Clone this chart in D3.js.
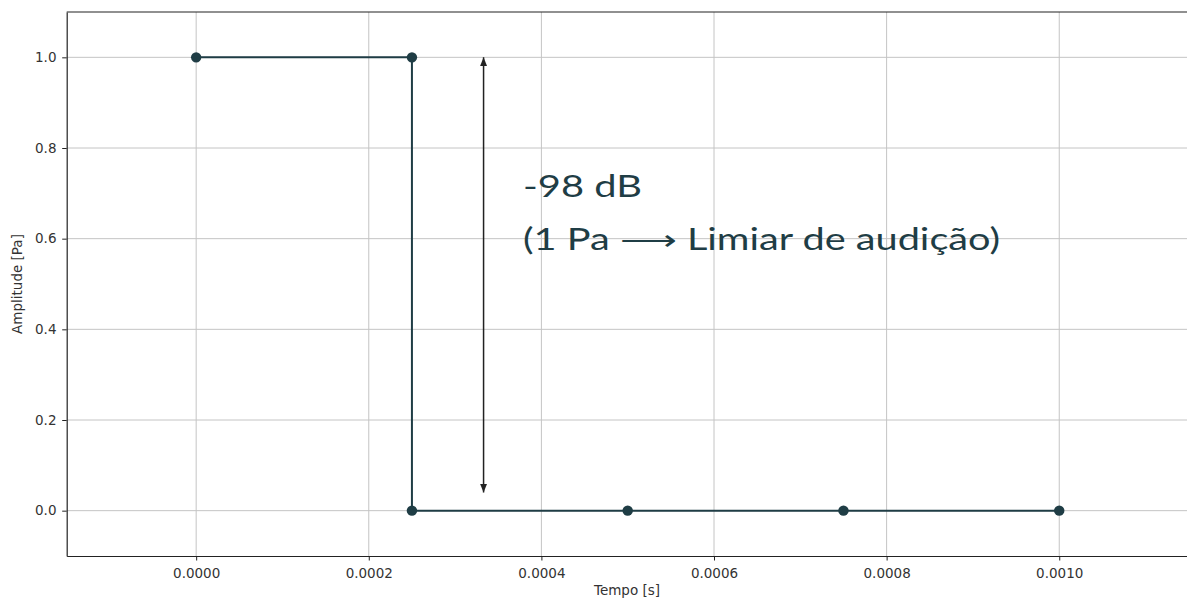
<!DOCTYPE html>
<html><head><meta charset="utf-8">
<script src="https://cdn.jsdelivr.net/npm/d3@7"></script>
<style>body{margin:0;background:#fff}svg{display:block}</style>
</head><body>
<script>
const timeValues = [0, 0.00025, 0.00025, 0.0005, 0.00075, 0.001];
const amplitudeValues = [1, 1, 0, 0, 0, 0];
const xTickValues = [0, 0.0002, 0.0004, 0.0006, 0.0008, 0.0010];
const yTickValues = [0, 0.2, 0.4, 0.6, 0.8, 1.0];
const arrowX = 0.000333;
const arrowFrom = 0.04, arrowTo = 1.0;
const labelLines = ["-98 dB", "(1 Pa \u27F6 Limiar de audição)"];

const W = 1187, H = 602;
const m = {left: 66.7, top: 12, right: 1188.7, bottom: 556};
const color = "#1f3d45";
const svg = d3.select("body").append("svg").attr("width", W).attr("height", H);
const x = d3.scaleLinear().domain([-0.00015, 0.00115]).range([m.left, m.right]);
const y = d3.scaleLinear().domain([-0.1, 1.1]).range([m.bottom, m.top]);

const defs = svg.append("defs");
defs.append("clipPath").attr("id","c").append("rect")
  .attr("x", m.left).attr("y", m.top).attr("width", m.right-m.left).attr("height", m.bottom-m.top);
defs.append("marker").attr("id","ah").attr("viewBox","0 0 10 10").attr("refX",10).attr("refY",5)
  .attr("markerWidth",6).attr("markerHeight",6).attr("orient","auto-start-reverse")
  .append("path").attr("d","M0,1 L10,5 L0,9 z").attr("fill","#222");

// grid
const g = svg.append("g").attr("clip-path","url(#c)");
g.selectAll(".gx").data(xTickValues).enter().append("line")
  .attr("x1", d=>x(d)).attr("x2", d=>x(d)).attr("y1", m.top).attr("y2", m.bottom)
  .attr("stroke","#c4c4c4").attr("stroke-width",1);
g.selectAll(".gy").data(yTickValues).enter().append("line")
  .attr("y1", d=>y(d)).attr("y2", d=>y(d)).attr("x1", m.left).attr("x2", m.right)
  .attr("stroke","#c4c4c4").attr("stroke-width",1);

// axes
const xAxis = svg.append("g").attr("transform",`translate(0,${m.bottom})`)
  .call(d3.axisBottom(x).tickValues(xTickValues).tickFormat(d3.format(".4f")).tickSize(4.5).tickSizeOuter(0));
const yAxis = svg.append("g").attr("transform",`translate(${m.left},0)`)
  .call(d3.axisLeft(y).tickValues(yTickValues).tickFormat(d3.format(".1f")).tickSize(4.5).tickSizeOuter(0));
[xAxis,yAxis].forEach(a=>{
  a.selectAll("text").attr("font-family","'DejaVu Sans', sans-serif").attr("font-size","13.5px").attr("fill","#333");
  a.selectAll(".tick line").attr("stroke","#222");
  a.select(".domain").attr("stroke","#222").attr("stroke-width",1.2);
});
xAxis.selectAll("text").attr("dy","1.05em");
yAxis.selectAll("text").attr("dx","-0.2em");
svg.append("line").attr("x1",m.left).attr("x2",m.right).attr("y1",m.top).attr("y2",m.top)
  .attr("stroke","#222").attr("stroke-width",1.2);

// line & markers
const pts = timeValues.map((t,i)=>[t, amplitudeValues[i]]);
svg.append("path").datum(pts).attr("fill","none").attr("stroke",color).attr("stroke-width",2)
  .attr("d", d3.line().x(d=>x(d[0])).y(d=>y(d[1])));
svg.selectAll(".pt").data(pts).enter().append("circle")
  .attr("cx", d=>x(d[0])).attr("cy", d=>y(d[1])).attr("r",5.2).attr("fill",color);

// arrow
svg.append("line").attr("x1",x(arrowX)).attr("x2",x(arrowX)).attr("y1",y(arrowFrom)).attr("y2",y(arrowTo))
  .attr("stroke","#222").attr("stroke-width",1.5)
  .attr("marker-start","url(#ah)").attr("marker-end","url(#ah)");

// annotation text
svg.append("text").attr("x",523).attr("y",197).text(labelLines[0])
  .attr("font-family","Lato, sans-serif").attr("font-size","30px").attr("fill",color)
  .attr("textLength",119).attr("lengthAdjust","spacingAndGlyphs");
svg.append("text").attr("x",523).attr("y",250).text(labelLines[1])
  .attr("font-family","Lato, sans-serif").attr("font-size","30px").attr("fill",color)
  .attr("textLength",477).attr("lengthAdjust","spacingAndGlyphs");

// axis labels
svg.append("text").attr("x",627).attr("y",595).attr("text-anchor","middle")
  .attr("font-family","'DejaVu Sans', sans-serif").attr("font-size","13.5px").attr("fill","#333").text("Tempo [s]");
svg.append("text").attr("transform",`translate(22,284) rotate(-90)`).attr("text-anchor","middle")
  .attr("font-family","'DejaVu Sans', sans-serif").attr("font-size","13.5px").attr("fill","#333").text("Amplitude [Pa]");
</script>
</body></html>
